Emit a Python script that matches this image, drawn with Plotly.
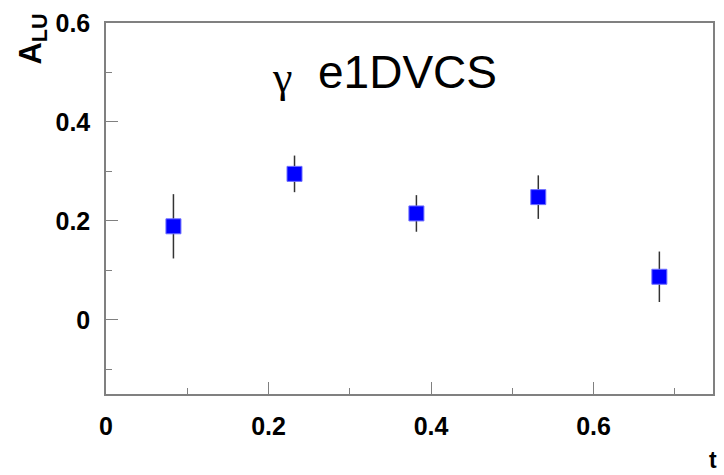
import plotly.graph_objects as go

# Beam-spin asymmetry A_LU versus -t (e1DVCS)
t_vals = [0.083, 0.232, 0.382, 0.532, 0.681]
alu_vals = [0.189, 0.295, 0.215, 0.248, 0.087]
alu_errs = [0.065, 0.037, 0.037, 0.044, 0.051]

x_ticks = [0, 0.2, 0.4, 0.6]
x_tick_text = ["0", "0.2", "0.4", "0.6"]
y_ticks = [0, 0.2, 0.4, 0.6]
y_tick_text = ["0", "0.2", "0.4", "0.6"]

frame_col = "#808080"
tick_font = dict(family="Liberation Sans, Arial, sans-serif", size=25,
                 color="black", weight="bold")

fig = go.Figure()
fig.add_trace(go.Scatter(
    x=t_vals, y=alu_vals, mode="markers",
    marker=dict(symbol="square", size=15, color="#0000ff",
                line=dict(width=1, color="#6f6fff")),
    error_y=dict(type="data", array=alu_errs, visible=True,
                 thickness=1.5, width=0, color="#333333"),
    showlegend=False,
))

axis_common = dict(
    showline=True, linecolor=frame_col, linewidth=1.5, mirror=True,
    showgrid=False, zeroline=False,
    ticks="inside", ticklen=12, tickwidth=1, tickcolor=frame_col,
    tickfont=tick_font, tickmode="array",
    minor=dict(ticks="inside", ticklen=6, tickwidth=1, tickcolor=frame_col,
               dtick=0.1, showgrid=False),
)

fig.update_xaxes(range=[0, 0.747], tickvals=x_ticks, ticktext=x_tick_text,
                 ticklabelstandoff=9, **axis_common)
fig.update_yaxes(range=[-0.15, 0.6], tickvals=y_ticks, ticktext=y_tick_text,
                 ticklabelstandoff=9, **axis_common)

# Axis titles
fig.add_annotation(
    text="<b>A<sub>LU</sub></b>", textangle=-90,
    xref="paper", yref="paper", x=-0.12, y=1.03,
    xanchor="center", yanchor="top", showarrow=False,
    font=dict(family="Liberation Sans, Arial, sans-serif", size=31, color="black"),
)
fig.add_annotation(
    text="<b>t</b>",
    xref="paper", yref="paper", x=1.0, y=-0.178, xshift=6,
    xanchor="right", yanchor="middle", showarrow=False,
    font=dict(family="Liberation Sans, Arial, sans-serif", size=23, color="black"),
)

# Dataset label
fig.add_annotation(
    text="γ", xref="x", yref="y", x=0.216, y=0.49,
    xanchor="center", yanchor="middle", showarrow=False,
    font=dict(family="Liberation Serif, serif", size=44, color="black"),
)
fig.add_annotation(
    text="e1DVCS", xref="x", yref="y", x=0.259, y=0.50,
    xanchor="left", yanchor="middle", showarrow=False,
    font=dict(family="Liberation Sans, Arial, sans-serif", size=46, color="black"),
)

fig.update_layout(
    width=724, height=475,
    margin=dict(l=106, r=9, t=15, b=81),
    paper_bgcolor="white", plot_bgcolor="white",
)

fig.write_html("out.html")
